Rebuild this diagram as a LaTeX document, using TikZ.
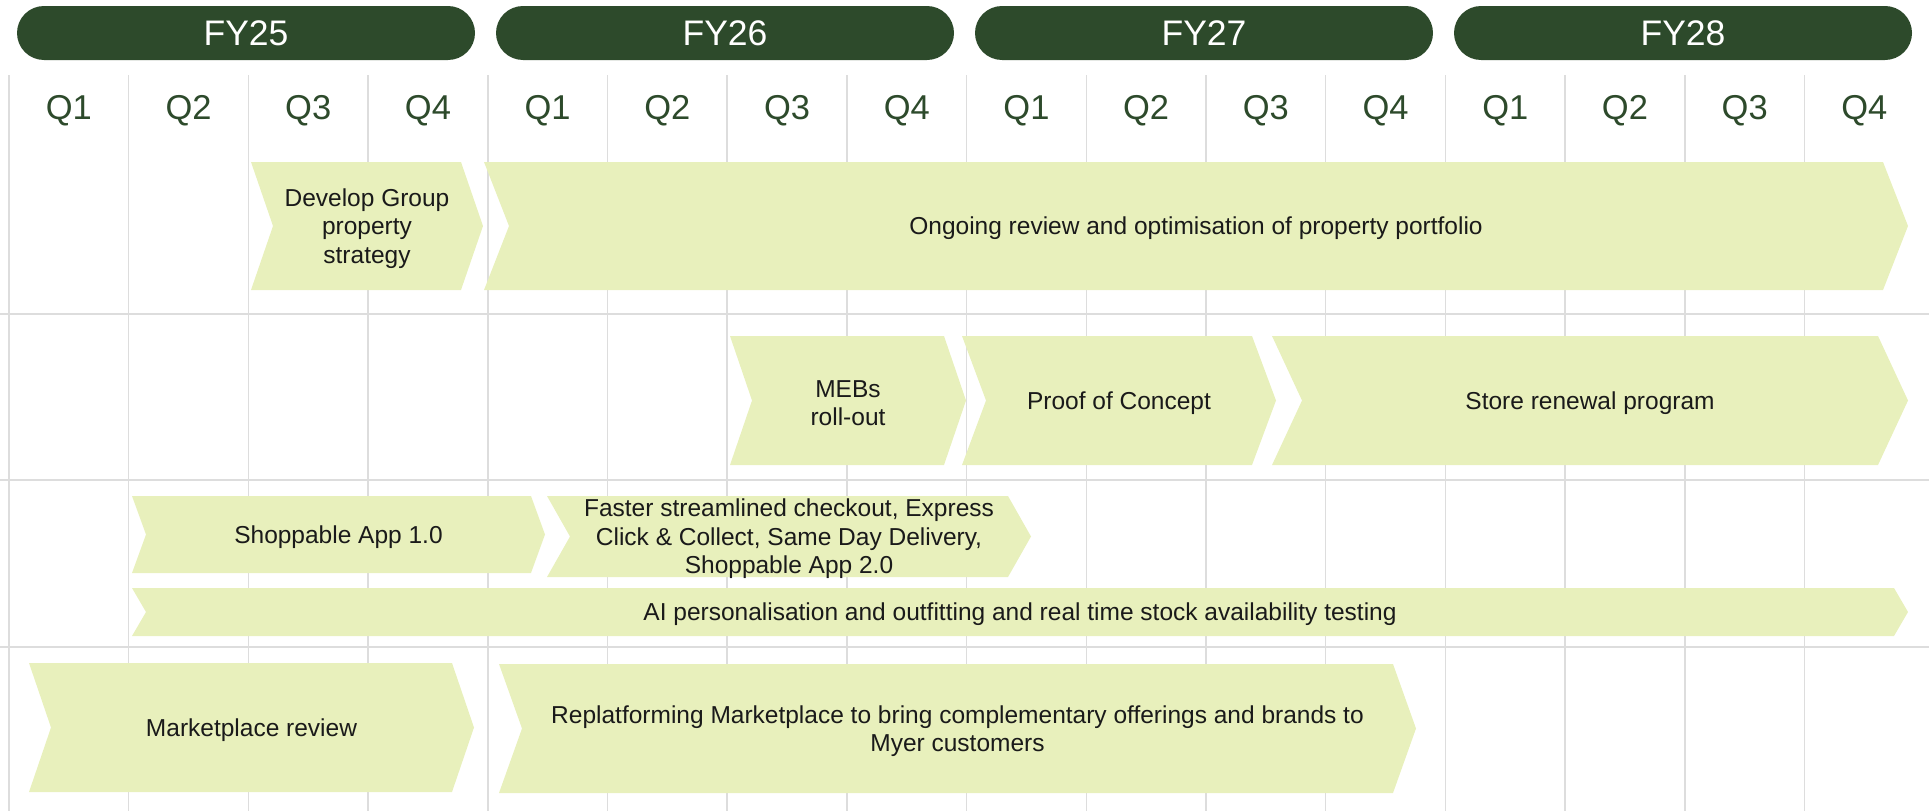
\documentclass[tikz,border=0pt]{standalone}
\usepackage{fontspec}
\setmainfont{Liberation Sans}
\definecolor{fygreen}{RGB}{45,74,43}
\definecolor{chevlime}{RGB}{232,240,188}
\definecolor{gridgrey}{RGB}{221,221,221}
\definecolor{inkdark}{RGB}{26,26,26}
% name, left, right, top, bottom, depth, text
\newcommand{\chevron}[7]{%
  \fill[chevfill] (#2,#4) -- ({#3-#6},#4) -- (#3,{(#4+#5)/2}) -- ({#3-#6},#5) -- (#2,#5) -- ({#2+#6},{(#4+#5)/2}) -- cycle;
  \node[chevtext] (#1) at ({(#2+#3)/2},{(#4+#5)/2}) {#7};}

\begin{document}
\begin{tikzpicture}[x=1pt,y=-1pt,
  fypill/.style={fill=fygreen,text=white,rounded corners=27pt,minimum width=458pt,minimum height=54pt,inner sep=0pt,font=\fontsize{35.5}{42}\selectfont},
  qlabel/.style={text=fygreen,font=\fontsize{34.5}{40}\selectfont},
  gridline/.style={draw=gridgrey,line width=1.5pt},
  chevfill/.style={fill=chevlime},
  chevtext/.style={text=inkdark,align=center,inner sep=0pt,yshift=-2.5pt,font=\fontsize{24.5}{28.5}\selectfont}]
\useasboundingbox (0,0) rectangle (1929,811);
% grid
\foreach \c in {0,...,15} \draw[gridline] ({9+119.7*\c},75) -- ({9+119.7*\c},811);
\foreach \y in {314,480,647} \draw[gridline] (0,\y) -- (1929,\y);
% years and quarters
\foreach \fy [count=\k from 0] in {25,26,27,28}
  \node[fypill] (fy\fy) at ({246+479*\k},33) {FY\fy};
\foreach \c in {0,...,15} {
  \pgfmathtruncatemacro{\qn}{mod(\c,4)+1}
  \node[qlabel] (q\c) at ({9+119.7*(\c+0.5)},111) {Q\qn};
}
% property
\chevron{devstrat}{251}{483}{162}{290}{22}{Develop Group\\property\\strategy}
\chevron{ongoing}{484}{1908}{162}{290}{25}{Ongoing review and optimisation of property portfolio}
% stores
\chevron{mebs}{730}{966}{336}{465}{22}{MEBs\\roll-out}
\chevron{poc}{962}{1276}{336}{465}{24}{Proof of Concept}
\chevron{renewal}{1272}{1908}{336}{465}{30}{Store renewal program}
% app
\chevron{appone}{132}{545}{496}{573}{14}{Shoppable App 1.0}
\chevron{checkout}{547}{1031}{496}{577}{23}{Faster streamlined checkout, Express\\Click \& Collect, Same Day Delivery,\\Shoppable App 2.0}
\chevron{aitest}{132}{1908}{588}{636}{14}{AI personalisation and outfitting and real time stock availability testing}
% marketplace
\chevron{mpreview}{29}{474}{663}{792}{22}{Marketplace review}
\chevron{replat}{499}{1416}{664}{793}{23}{Replatforming Marketplace to bring complementary offerings and brands to\\Myer customers}
\end{tikzpicture}
\end{document}
